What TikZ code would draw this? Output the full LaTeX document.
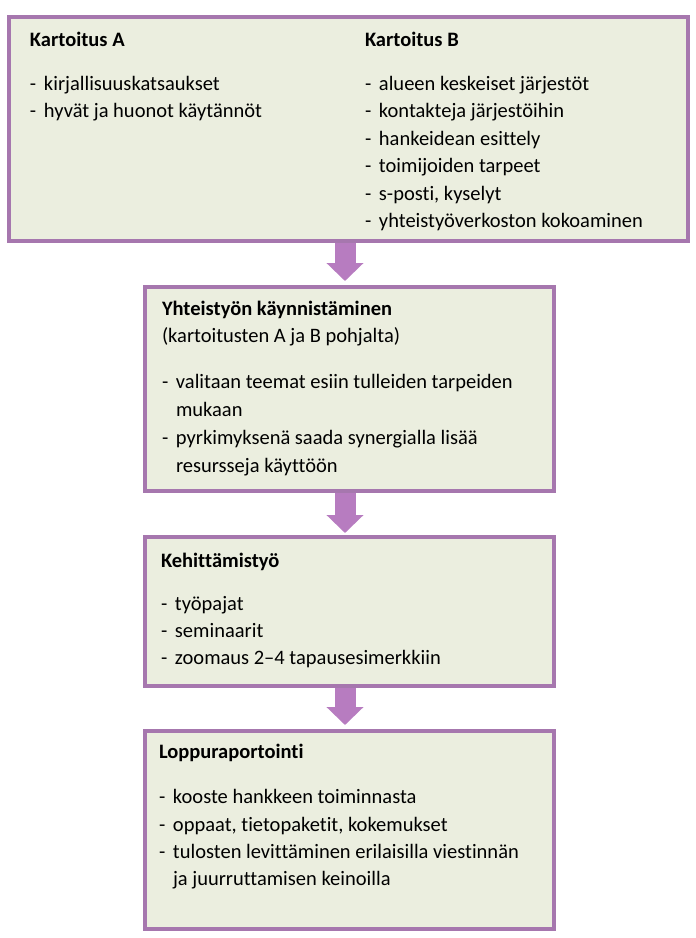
\documentclass[tikz,border=0pt]{standalone}
\usepackage{fontspec}
\setmainfont{Carlito}[Ligatures=NoCommon]
\usetikzlibrary{arrows.meta}
\definecolor{boxline}{HTML}{A677AE}
\definecolor{boxfill}{HTML}{EBEEDF}
\definecolor{arrowc}{HTML}{B77CC0}
\tikzset{
  box/.style={draw=boxline, fill=boxfill, line width=4pt, inner sep=0pt, outer sep=0pt, anchor=north west, rectangle},
  txt/.style={anchor=base west, inner sep=0pt, outer sep=0pt, font=\fontsize{20.5}{25}\selectfont},
  ttl/.style={txt, font=\fontsize{20.5}{25}\selectfont\bfseries},
  flow/.style={draw=arrowc, line width=21pt, -{Triangle[length=18pt,width=36pt]}, shorten <=2pt}
}
\newcommand{\itm}[1]{\makebox[14pt][l]{-}#1}
\begin{document}
\begin{tikzpicture}[x=1pt,y=-1pt]
\useasboundingbox (0,0) rectangle (696,938);
\fill[white] (0,0) rectangle (696,938);
% boxes
\node[box, minimum width=679pt, minimum height=224pt] (b1) at (9,17) {};
\node[box, minimum width=409pt, minimum height=204pt] (b2) at (145,287) {};
\node[box, minimum width=409pt, minimum height=149pt] (b3) at (145,537) {};
\node[box, minimum width=409pt, minimum height=198pt] (b4) at (145,731) {};
% arrows
\coordinate (ax) at (345,0);
\draw[flow, shorten >=6pt] (b1.south -| ax) -- (b2.north -| ax);
\draw[flow, shorten >=4pt] (b2.south -| ax) -- (b3.north -| ax);
\draw[flow, shorten >=6pt] (b3.south -| ax) -- (b4.north -| ax);
% box 1 text
\node[ttl] (a0) at (30,46) {Kartoitus A};
\node[txt] (a1) at (30,90) {\itm{kirjallisuuskatsaukset}};
\node[txt] (a2) at (30,117) {\itm{hyvät ja huonot käytännöt}};
\node[ttl] (k0) at (365,46) {Kartoitus B};
\node[txt] (k1) at (365,90) {\itm{alueen keskeiset järjestöt}};
\node[txt] (k2) at (365,117) {\itm{kontakteja järjestöihin}};
\node[txt] (k3) at (365,145) {\itm{hankeidean esittely}};
\node[txt] (k4) at (365,172) {\itm{toimijoiden tarpeet}};
\node[txt] (k5) at (365,200) {\itm{s-posti, kyselyt}};
\node[txt] (k6) at (365,227) {\itm{yhteistyöverkoston kokoaminen}};
% box 2 text
\node[ttl] (y0) at (162,315) {Yhteistyön käynnistäminen};
\node[txt] (y1) at (162,342) {(kartoitusten A ja B pohjalta)};
\node[txt] (y2) at (162,388) {\itm{valitaan teemat esiin tulleiden tarpeiden}};
\node[txt] (y3) at (176,416) {mukaan};
\node[txt] (y4) at (162,444) {\itm{pyrkimyksenä saada synergialla lisää}};
\node[txt] (y5) at (176,472) {resursseja käyttöön};
% box 3 text
\node[ttl] (h0) at (161,567) {Kehittämistyö};
\node[txt] (h1) at (161,610) {\itm{työpajat}};
\node[txt] (h2) at (161,637) {\itm{seminaarit}};
\node[txt] (h3) at (161,664) {\itm{zoomaus 2–4 tapausesimerkkiin}};
% box 4 text
\node[ttl] (l0) at (159,758) {Loppuraportointi};
\node[txt] (l1) at (159,803) {\itm{kooste hankkeen toiminnasta}};
\node[txt] (l2) at (159,831) {\itm{oppaat, tietopaketit, kokemukset}};
\node[txt] (l3) at (159,858) {\itm{tulosten levittäminen erilaisilla viestinnän}};
\node[txt] (l4) at (173,885) {ja juurruttamisen keinoilla};
\end{tikzpicture}
\end{document}
